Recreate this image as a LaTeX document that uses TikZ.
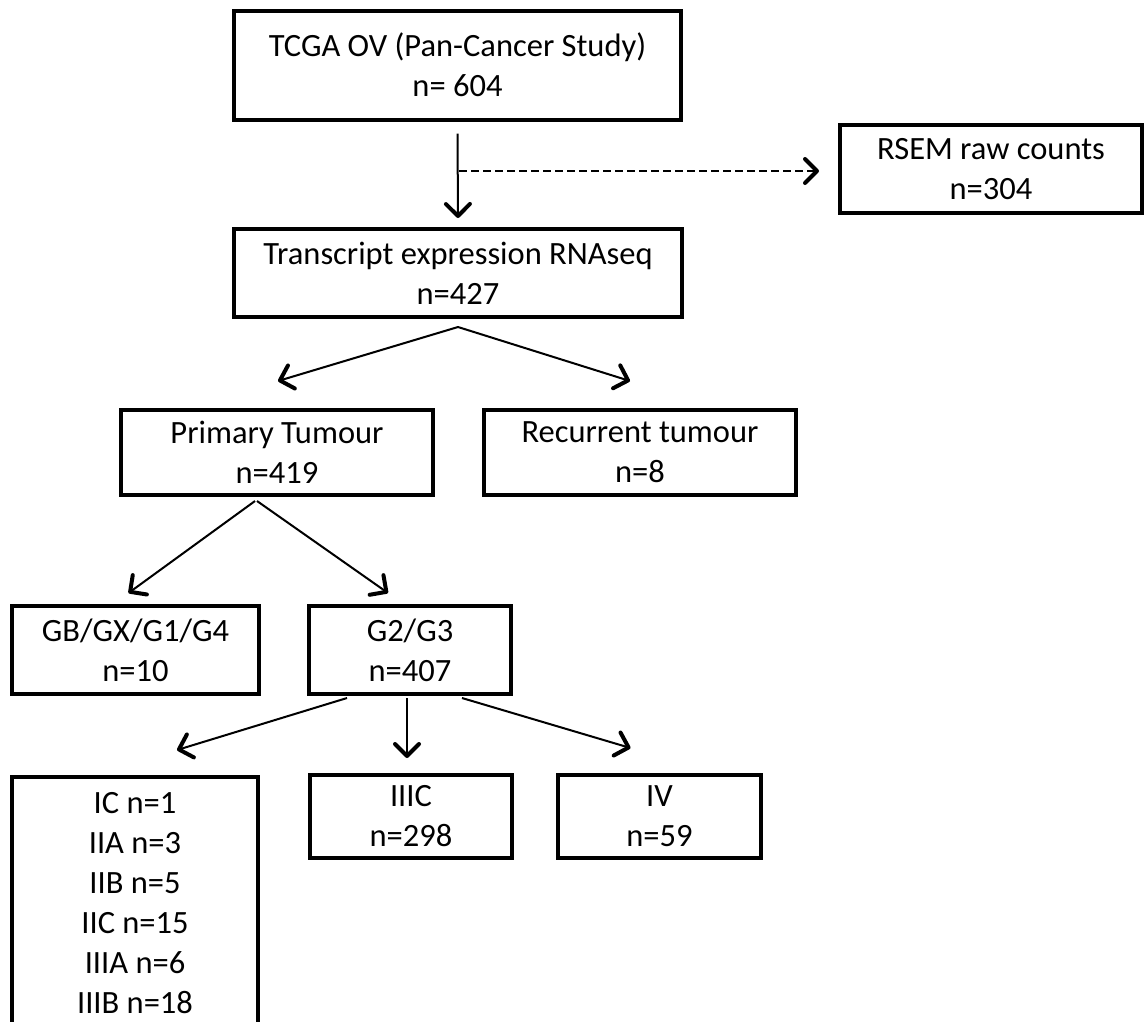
\documentclass[tikz,border=0pt]{standalone}
\usepackage{fontspec}
\setmainfont{Carlito}
\usetikzlibrary{arrows.meta,calc}
\begin{document}
\begin{tikzpicture}[x=1pt,y=-1pt,
  box/.style={draw=black,line width=4pt,align=center,inner sep=0pt,
    font=\fontsize{32.5}{40}\selectfont},
  conn/.style={line width=2pt,-{Straight Barb[length=12pt,width=24pt,line width=4pt,round]}}]
\useasboundingbox (0,0) rectangle (1147,1021);
\clip (0,0) rectangle (1147,1021);
\node[box,minimum width=447pt,minimum height=109pt] (tcga) at (457.5,65) {TCGA OV (Pan-Cancer Study)\\n= 604};
\node[box,minimum width=302pt,minimum height=88pt] (rsem) at (991,169) {RSEM raw counts\\n=304};
\node[box,minimum width=448pt,minimum height=88pt] (trans) at (458,273) {Transcript expression RNAseq\\n=427};
\node[box,minimum width=312pt,minimum height=85pt] (prim) at (277,452.5) {Primary Tumour\\n=419};
\node[box,minimum width=312pt,minimum height=85pt] (recur) at (640,452.5) {Recurrent tumour\\n=8};
\node[box,minimum width=247pt,minimum height=88pt] (gb) at (135.5,650) {GB/GX/G1/G4\\n=10};
\node[box,minimum width=202pt,minimum height=88pt] (g23) at (410,650) {G2/G3\\n=407};
\node[box,minimum width=202pt,minimum height=83pt] (iiic) at (411,816.5) {IIIC\\n=298};
\node[box,minimum width=203pt,minimum height=83pt] (iv) at (659.5,816.5) {IV\\n=59};
\node[box,minimum width=246pt,inner ysep=15pt,anchor=north] (ic) at (135,775)
  {IC n=1\\IIA n=3\\IIB n=5\\IIC n=15\\IIIA n=6\\IIIB n=18};
% connectors
\coordinate (split) at (459,171);
\draw[conn] ($(tcga.south)+(0,12)$) -- ($(trans.north)+(0,-9)$);
\draw[conn,dashed,dash pattern=on 8pt off 4pt] (split) -- ($(split -| rsem.west)+(-19,0)$);
\draw[conn] ($(trans.south)+(0,8)$) -- ($(prim.north)+(1,-27)$);
\draw[conn] ($(trans.south)+(0,8)$) -- ($(recur.north)+(-10,-27)$);
\draw[conn] ($(prim.south)+(-22,4)$) -- ($(gb.north)+(-7,-11)$);
\draw[conn] ($(prim.south)+(-20,4)$) -- ($(g23.north)+(-22,-11)$);
\draw[conn] ($(g23.south)+(-63,2)$) -- ($(ic.north)+(42,-25)$);
\draw[conn] ($(g23.south)+(-3,2)$) -- ($(iiic.north)+(-4,-15)$);
\draw[conn] ($(g23.south)+(52,2)$) -- ($(iv.north)+(-29,-25)$);
\end{tikzpicture}
\end{document}
